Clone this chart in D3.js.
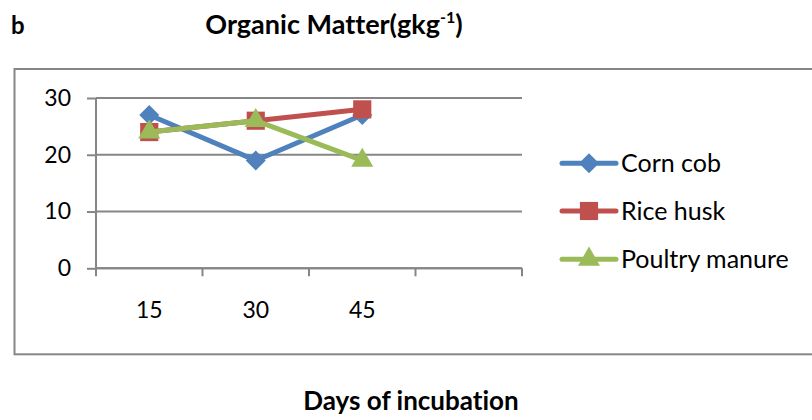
<!DOCTYPE html>
<html><head><meta charset="utf-8">
<script src="https://cdn.jsdelivr.net/npm/d3@7"></script>
<style>body{margin:0;background:#fff}svg{display:block}text{font-family:Lato,"Open Sans",sans-serif;font-variant-ligatures:none}</style>
</head><body><svg id="c" width="812" height="420"></svg>
<script>
const categories = ["15", "30", "45", ""];
const cornCob = [27, 19, 27];
const riceHusk = [24, 26, 28];
const poultryManure = [24, 26, 19];
const yTicks = [0, 10, 20, 30];
const seriesNames = ["Corn cob", "Rice husk", "Poultry manure"];
const seriesColors = ["#4F81BD", "#C0504D", "#9BBB59"];
const seriesSymbols = ["diamond", "square", "triangle"];

const series = [cornCob, riceHusk, poultryManure].map((v, i) => ({name: seriesNames[i], values: v, color: seriesColors[i], sym: seriesSymbols[i]}));

function marker(sel, type) {
  if (type === "diamond") sel.attr("d", d3.symbol().type(d3.symbolSquare).size(200)());
  else if (type === "square") sel.attr("d", d3.symbol().type(d3.symbolSquare).size(330)());
  else sel.attr("d", d3.symbol().type(d3.symbolTriangle).size(210)());
  return sel;
}

const svg = d3.select("#c");
const L = 96, R = 522, T = 98, B = 268.3;
const x = d3.scaleBand().domain(categories.map((c, i) => i)).range([L, R]).padding(0);
const y = d3.scaleLinear().domain([0, 30]).range([B, T]);
const gray = "#868686";

// outer box
svg.append("rect").attr("x", 14.5).attr("y", 69).attr("width", 812).attr("height", 285.3)
  .attr("fill", "none").attr("stroke", gray).attr("stroke-width", 2);

// titles
svg.append("text").attr("x", 11).attr("y", 34).attr("font-weight", "bold").attr("font-size", 24).attr("fill", "#000").text("b");
const t = svg.append("text").attr("x", 334).attr("y", 34).attr("text-anchor", "middle").attr("font-weight", "bold").attr("font-size", 27).attr("fill", "#000");
t.append("tspan").text("Organic Matter(gkg");
t.append("tspan").attr("font-size", 16).attr("dy", -11).text("-1");
t.append("tspan").attr("dy", 11).text(")");

svg.append("text").attr("x", 411).attr("y", 410).attr("text-anchor", "middle").attr("font-weight", "bold").attr("font-size", 26).attr("fill", "#000").text("Days of incubation");

// gridlines
svg.append("g").selectAll("line").data(yTicks).join("line")
  .attr("x1", L).attr("x2", R).attr("y1", d => y(d)).attr("y2", d => y(d))
  .attr("stroke", gray).attr("stroke-width", 2);

// y axis
const ya = svg.append("g").attr("transform", `translate(${L},0)`)
  .call(d3.axisLeft(y).tickValues(yTicks).tickSize(9).tickPadding(16));
ya.select(".domain").attr("stroke", gray).attr("stroke-width", 2).attr("d", `M0,${B}V${T}`);
ya.selectAll(".tick line").attr("stroke", gray).attr("stroke-width", 2);
ya.selectAll(".tick text").attr("font-size", 23).attr("fill", "#000").attr("font-family", "Lato,sans-serif");

// x axis
const xa = svg.append("g").attr("transform", `translate(0,${B})`)
  .call(d3.axisBottom(x).tickFormat(i => categories[i]).tickSize(0).tickPadding(33));
xa.select(".domain").attr("stroke", gray).attr("stroke-width", 2).attr("d", `M${L},0H${R}`);
xa.selectAll(".tick text").attr("font-size", 23).attr("fill", "#000").attr("font-family", "Lato,sans-serif");
const bounds = categories.map((c, i) => x(i)).concat([R]);
xa.append("g").selectAll("line").data(bounds).join("line")
  .attr("x1", d => d).attr("x2", d => d).attr("y1", 0).attr("y2", 8)
  .attr("stroke", gray).attr("stroke-width", 2);

// lines and markers
const cx = i => x(i) + x.bandwidth() / 2;
const line = d3.line().x((d, i) => cx(i)).y(d => y(d));
const g = svg.append("g");
series.forEach(s => {
  g.append("path").attr("d", line(s.values)).attr("fill", "none").attr("stroke", s.color).attr("stroke-width", 5).attr("stroke-linejoin", "round");
  g.selectAll(null).data(s.values).join("path")
    .call(marker, s.sym)
    .attr("transform", (d, i) => `translate(${cx(i)},${y(d)})` + (s.sym === "diamond" ? " rotate(45)" : ""))
    .attr("fill", s.color);
});

// legend
const lg = svg.append("g");
const rowsY = [163.3, 211, 259.3];
series.forEach((s, i) => {
  const r = lg.append("g").attr("transform", `translate(0,${rowsY[i]})`);
  r.append("line").attr("x1", 562).attr("x2", 616).attr("y1", 0).attr("y2", 0).attr("stroke", s.color).attr("stroke-width", 5).attr("stroke-linecap", "round");
  r.append("path").call(marker, s.sym).attr("transform", "translate(589,0)" + (s.sym === "diamond" ? " rotate(45)" : "")).attr("fill", s.color);
  r.append("text").attr("x", 621).attr("y", 0).attr("dy", "0.35em").attr("font-size", 25).attr("fill", "#000").text(s.name);
});
</script></body></html>
